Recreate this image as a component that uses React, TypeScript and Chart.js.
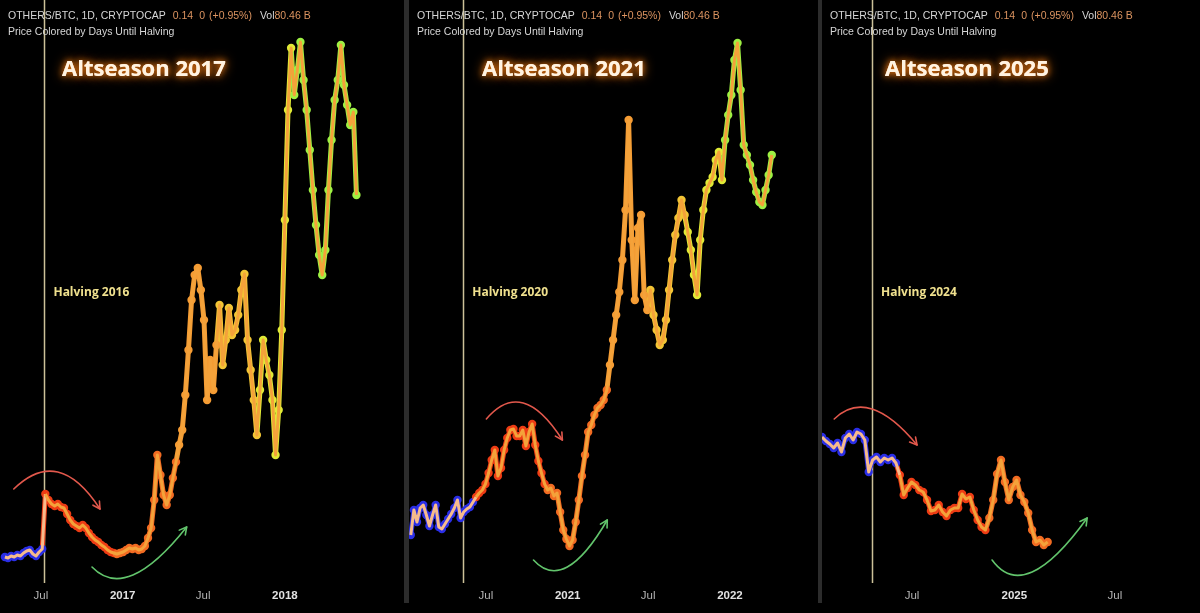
import React, { useEffect, useRef } from 'react';
import { Chart, registerables } from 'chart.js';

Chart.register(...registerables);

const DAY_MS = 86400000;
const day = (iso: string) => Date.parse(iso + 'T00:00:00Z') / DAY_MS;

// ---------- Panel 1: 2016 halving cycle (weekly, index units) ----------
const P1_START = '2016-04-11';
const P1_VALUES = [
  5.2, 5.0, 5.4, 5.2, 5.6, 5.4, 6.0, 6.4, 6.6, 5.8,
  5.4, 6.2, 6.8, 17.8, 16.6, 15.8, 15.4, 15.8, 15.2, 15.0,
  13.8, 12.6, 11.8, 11.4, 11.0, 11.6, 11.0, 10.0, 9.2, 8.6,
  8.2, 7.6, 7.2, 6.6, 6.2, 6.0, 5.8, 6.0, 6.2, 6.6,
  7.0, 6.8, 7.0, 6.6, 6.8, 7.4, 9.0, 11.0, 16.6, 25.6,
  21.6, 17.6, 15.6, 17.6, 21.0, 24.2, 27.6, 30.6, 37.6, 46.6,
  56.6, 61.6, 63.0, 58.6, 52.6, 36.6, 44.6, 38.6, 47.6, 55.6,
  43.6, 48.6, 55.0, 49.6, 50.6, 53.6, 58.6, 61.8, 48.6, 42.6,
  36.6, 29.6, 38.6, 48.6, 44.6, 41.6, 36.6, 25.6, 34.6, 50.6,
  72.6, 94.6, 107.0, 97.6, 102.6, 108.2, 100.6, 94.6, 86.6, 78.6,
  71.6, 65.6, 61.6, 66.6, 78.6, 88.6, 96.6, 100.6, 107.6, 99.6,
  95.6, 91.6, 94.2, 77.6,
];
const P1_TICKS = ['2016-07-01', '2017-01-01', '2017-07-01', '2018-01-01'];
const P1_TICK_LABELS = ['Jul', '2017', 'Jul', '2018'];
const P1_RANGE = ['2016-03-31', '2018-09-26'];
const P1_HALVING = '2016-07-09';
const P1_RED_ARROW = [[-69, 18.8], [30, 22.2], [125, 14.8]];
const P1_GREEN_ARROW = [[107, 3.2], [199, 1.6], [320, 11.2]];

// ---------- Panel 2: 2020 halving cycle ----------
const P2_START = '2020-01-14';
const P2_VALUES = [
  9.6, 14.6, 12.2, 15.0, 15.6, 13.6, 11.4, 13.6, 15.6, 11.2,
  10.8, 11.8, 12.8, 13.8, 15.0, 16.6, 13.0, 14.2, 14.8, 15.2,
  16.2, 17.2, 18.0, 18.6, 19.8, 22.0, 24.6, 26.6, 21.4, 23.0,
  26.6, 29.0, 30.6, 30.8, 29.4, 29.4, 30.6, 27.4, 30.2, 31.8,
  27.6, 24.4, 22.0, 19.8, 18.6, 19.0, 17.4, 18.0, 14.2, 10.6,
  8.8, 7.4, 8.6, 12.2, 16.6, 21.4, 25.6, 30.2, 31.6, 33.6,
  35.0, 35.6, 36.6, 38.6, 43.6, 48.6, 53.6, 58.2, 64.6, 74.6,
  92.6, 68.6, 56.6, 71.0, 73.6, 57.6, 54.6, 58.6, 53.6, 50.6,
  47.6, 48.6, 52.6, 58.6, 64.6, 69.6, 73.0, 76.6, 73.6, 70.2,
  66.6, 61.6, 57.6, 68.6, 74.6, 78.6, 80.0, 81.2, 84.6, 86.2,
  80.6, 88.6, 93.6, 97.6, 104.6, 108.0, 98.6, 87.6, 85.6, 83.6,
  80.6, 78.2, 76.2, 75.6, 78.6, 81.6, 85.6,
];
const P2_TICKS = ['2020-07-01', '2021-01-01', '2021-07-01', '2022-01-01'];
const P2_TICK_LABELS = ['Jul', '2021', 'Jul', '2022'];
const P2_RANGE = ['2020-01-10', '2022-07-18'];
const P2_HALVING = '2020-05-11';
const P2_RED_ARROW = [[52, 32.8], [135, 36.0], [223, 28.6]];
const P2_GREEN_ARROW = [[158, 4.6], [234, 3.2], [324, 12.6]];

// ---------- Panel 3: 2024 halving cycle ----------
const P3_START = '2024-01-21';
const P3_VALUES = [
  29.2, 28.4, 27.8, 27.0, 28.0, 26.2, 29.0, 29.8, 28.6, 30.2,
  29.8, 28.6, 22.2, 24.6, 25.2, 24.2, 25.0, 24.6, 25.0, 24.0,
  21.6, 17.6, 19.0, 20.2, 19.6, 18.6, 18.2, 16.6, 14.4, 14.6,
  15.6, 14.2, 13.4, 14.6, 15.0, 15.0, 17.8, 16.8, 17.2, 14.6,
  12.6, 11.2, 10.6, 13.0, 16.6, 21.8, 24.6, 20.2, 16.6, 19.2,
  20.6, 17.6, 16.2, 14.0, 10.6, 8.2, 8.6, 7.6, 8.2,
];
const P3_TICKS = ['2024-07-01', '2025-01-01', '2025-07-01'];
const P3_TICK_LABELS = ['Jul', '2025', 'Jul'];
const P3_RANGE = ['2024-01-21', '2025-12-01'];
const P3_HALVING = '2024-04-20';
const P3_RED_ARROW = [[-68, 32.8], [0, 34.8], [81, 27.6]];
const P3_GREEN_ARROW = [[216, 4.6], [288, 2.2], [387, 13.0]];

// ---------- Shared text ----------
const TITLES = ['Altseason 2017', 'Altseason 2021', 'Altseason 2025'];
const HALVING_LABELS = ['Halving 2016', 'Halving 2020', 'Halving 2024'];
const HALVING_LABEL_VALUE = 58;
const COLOR_LAG_DAYS = [0, 25, 50];
const HEADER_SEGMENTS: [string, string, number][] = [
  ['OTHERS/BTC, 1D, CRYPTOCAP', '#d6d6d6', 7],
  ['0.14', '#dc9460', 6],
  ['0', '#dc9460', 4],
  ['(+0.95%)', '#dc9460', 8],
  ['Vol', '#d6d6d6', 0],
  ['80.46 B', '#dc9460', 0],
];
const HEADER_LINE2 = 'Price Colored by Days Until Halving';

// days-since-halving colour stops
const COLOR_STOP_DAYS = [0, 160, 300, 390, 480, 560];
const COLOR_STOP_COLORS = ['#ee3c14', '#f26b22', '#f59c34', '#f2c535', '#e0ea36', '#9ef043'];
const PRE_HALVING_COLOR = '#2a2ee6';
const LINE_COLOR = '#f4a23a';
const LINE_PRE_COLOR = '#f6bb8c';

const PANEL_LEFTS = [0, 409, 822];
const PANEL_WIDTHS = [404, 409, 378];
const TITLE_OFFSETS = [62, 73, 63];
const HEIGHT = 613;

type Panel = {
  start: string; values: number[]; ticks: string[]; tickLabels: string[]; range: string[];
  halving: string; red: number[][]; green: number[][]; idx: number;
};

const PANELS: Panel[] = [
  { start: P1_START, values: P1_VALUES, ticks: P1_TICKS, tickLabels: P1_TICK_LABELS, range: P1_RANGE, halving: P1_HALVING, red: P1_RED_ARROW, green: P1_GREEN_ARROW, idx: 0 },
  { start: P2_START, values: P2_VALUES, ticks: P2_TICKS, tickLabels: P2_TICK_LABELS, range: P2_RANGE, halving: P2_HALVING, red: P2_RED_ARROW, green: P2_GREEN_ARROW, idx: 1 },
  { start: P3_START, values: P3_VALUES, ticks: P3_TICKS, tickLabels: P3_TICK_LABELS, range: P3_RANGE, halving: P3_HALVING, red: P3_RED_ARROW, green: P3_GREEN_ARROW, idx: 2 },
];

function colorFor(daysSince: number) {
  if (daysSince < 0) return PRE_HALVING_COLOR;
  let c = COLOR_STOP_COLORS[0];
  for (let i = 0; i < COLOR_STOP_DAYS.length; i++) if (daysSince >= COLOR_STOP_DAYS[i]) c = COLOR_STOP_COLORS[i];
  return c;
}

function drawArrow(ctx: CanvasRenderingContext2D, pts: { x: number; y: number }[], color: string) {
  const [s, m, e] = pts;
  const c = { x: 2 * m.x - (s.x + e.x) / 2, y: 2 * m.y - (s.y + e.y) / 2 };
  ctx.save();
  ctx.strokeStyle = color;
  ctx.lineWidth = 1.6;
  ctx.lineCap = 'round';
  ctx.lineJoin = 'round';
  ctx.beginPath();
  ctx.moveTo(s.x, s.y);
  ctx.quadraticCurveTo(c.x, c.y, e.x, e.y);
  ctx.stroke();
  const ang = Math.atan2(e.y - c.y, e.x - c.x);
  const L = 8, spread = 0.5;
  ctx.beginPath();
  ctx.moveTo(e.x - L * Math.cos(ang - spread), e.y - L * Math.sin(ang - spread));
  ctx.lineTo(e.x, e.y);
  ctx.lineTo(e.x - L * Math.cos(ang + spread), e.y - L * Math.sin(ang + spread));
  ctx.stroke();
  ctx.restore();
}

function makeOverlay(p: Panel) {
  const hDay = day(p.halving);
  return {
    id: 'overlay' + p.idx,
    beforeDatasetsDraw(chart: any) {
      const { ctx, chartArea, scales } = chart;
      const hx = Math.round(scales.x.getPixelForValue(hDay)) + 0.5;
      ctx.save();
      ctx.strokeStyle = 'rgba(226, 214, 170, 0.9)';
      ctx.lineWidth = 1.5;
      ctx.beginPath();
      ctx.moveTo(hx, 0);
      ctx.lineTo(hx, chartArea.bottom);
      ctx.stroke();
      ctx.restore();
    },
    afterDraw(chart: any) {
      const { ctx, scales } = chart;
      const toPx = (pt: number[]) => ({ x: scales.x.getPixelForValue(hDay + pt[0]), y: scales.y.getPixelForValue(pt[1]) });
      // header
      ctx.save();
      ctx.font = '10.5px "Liberation Sans", Arial, sans-serif';
      ctx.textBaseline = 'alphabetic';
      let x = 8;
      for (const [text, color, gap] of HEADER_SEGMENTS) {
        ctx.fillStyle = color;
        ctx.fillText(text, x, 19);
        x += ctx.measureText(text).width + gap;
      }
      ctx.fillStyle = '#d6d6d6';
      ctx.fillText(HEADER_LINE2, 8, 34.5);
      ctx.restore();
      // title with glow
      ctx.save();
      ctx.font = 'bold 22px "Open Sans", sans-serif';
      ctx.textBaseline = 'alphabetic';
      ctx.fillStyle = '#fff3e2';
      ctx.shadowColor = 'rgba(255, 130, 20, 0.95)';
      ctx.shadowBlur = 12;
      ctx.fillText(TITLES[p.idx], TITLE_OFFSETS[p.idx], 76);
      ctx.shadowBlur = 6;
      ctx.fillText(TITLES[p.idx], TITLE_OFFSETS[p.idx], 76);
      ctx.restore();
      // halving label
      ctx.save();
      ctx.font = 'bold 12px "Open Sans", sans-serif';
      ctx.textBaseline = 'middle';
      ctx.fillStyle = '#efe08e';
      ctx.fillText(HALVING_LABELS[p.idx], scales.x.getPixelForValue(hDay) + 9, scales.y.getPixelForValue(HALVING_LABEL_VALUE));
      ctx.restore();
      // arrows
      drawArrow(ctx, p.red.map(toPx), '#e2584c');
      drawArrow(ctx, p.green.map(toPx), '#62c46c');
    },
  };
}

function PanelChart({ p }: { p: Panel }) {
  const ref = useRef<HTMLCanvasElement | null>(null);
  useEffect(() => {
    if (!ref.current) return;
    const startDay = day(p.start);
    const hDay = day(p.halving);
    const lag = COLOR_LAG_DAYS[p.idx];
    const points = p.values.map((v, i) => ({ x: startDay + 7 * i, y: v }));
    const dotColors = points.map((pt) => colorFor(pt.x - hDay - lag));
    const tickDays = p.ticks.map(day);
    const labelFor = (value: number) => {
      const i = tickDays.findIndex((t) => Math.abs(t - value) < 0.5);
      return i >= 0 ? p.tickLabels[i] : '';
    };
    const chart = new Chart(ref.current, {
      type: 'line',
      data: {
        datasets: [
          {
            data: points,
            borderColor: LINE_COLOR,
            borderWidth: 3,
            borderJoinStyle: 'round',
            pointRadius: 0,
            tension: 0,
            order: 0,
            segment: {
              borderColor: (c: any) => (c.p0.parsed.x < hDay + lag ? LINE_PRE_COLOR : LINE_COLOR),
            },
          },
          {
            data: points,
            showLine: true,
            borderWidth: 5,
            borderJoinStyle: 'round',
            borderCapStyle: 'round',
            tension: 0,
            segment: {
              borderColor: (c: any) => colorFor(c.p1.parsed.x - hDay - lag),
            },
            pointRadius: 4.2,
            pointBorderWidth: 0,
            pointBackgroundColor: dotColors,
            order: 1,
          },
        ],
      },
      options: {
        responsive: false,
        animation: false,
        events: [],
        layout: { autoPadding: false, padding: { top: 33, left: 0, right: 0, bottom: 0 } },
        plugins: { legend: { display: false }, tooltip: { enabled: false } },
        scales: {
          x: {
            type: 'linear',
            min: day(p.range[0]),
            max: day(p.range[1]),
            offset: false,
            grid: { display: false, drawTicks: false },
            border: { display: false },
            afterFit: (s: any) => { s.height = 30; },
            afterBuildTicks: (s: any) => { s.ticks = tickDays.map((v) => ({ value: v })); },
            ticks: {
              autoSkip: false,
              maxRotation: 0,
              padding: 6,
              callback: (value: any) => labelFor(Number(value)),
              color: (c: any) => (/^\d/.test(labelFor(c.tick?.value)) ? '#e2e2e2' : '#b4b4b4'),
              font: (c: any) => ({
                family: '"Liberation Sans", Arial, sans-serif',
                size: 11.5,
                weight: /^\d/.test(labelFor(c.tick?.value)) ? 'bold' : 'normal',
              }),
            },
          },
          y: { type: 'linear', display: false, min: 0, max: 110 },
        },
      },
      plugins: [makeOverlay(p)],
    } as any);
    return () => chart.destroy();
  }, [p]);
  return (
    <canvas
      ref={ref}
      width={PANEL_WIDTHS[p.idx]}
      height={HEIGHT}
      style={{ position: 'absolute', left: PANEL_LEFTS[p.idx], top: 0, width: PANEL_WIDTHS[p.idx], height: HEIGHT }}
    />
  );
}

export default function App() {
  useEffect(() => {
    document.body.style.margin = '0';
    document.body.style.background = '#000';
  }, []);
  return (
    <div style={{ position: 'relative', width: 1200, height: HEIGHT, background: '#000', overflow: 'hidden' }}>
      {PANELS.map((p) => (
        <PanelChart key={p.idx} p={p} />
      ))}
      <div style={{ position: 'absolute', left: 404, top: 0, width: 5, height: 603, background: '#2c2c2c' }} />
      <div style={{ position: 'absolute', left: 818, top: 0, width: 4, height: 603, background: '#2c2c2c' }} />
    </div>
  );
}
